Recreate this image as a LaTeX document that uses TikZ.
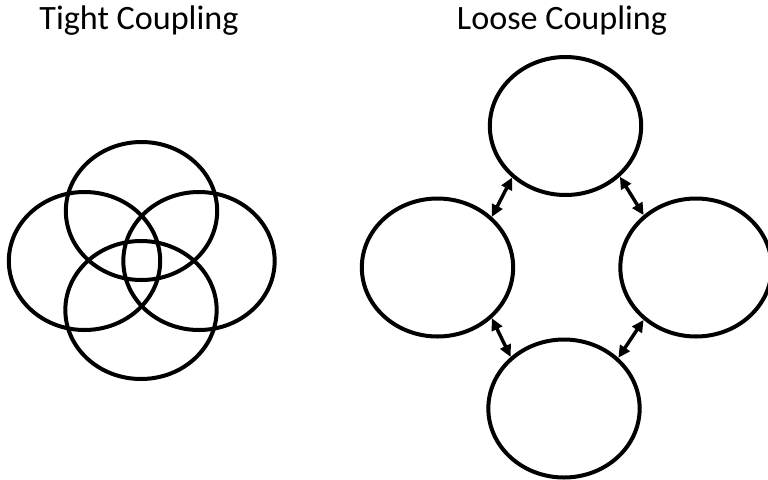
\documentclass[tikz,border=0pt]{standalone}
\usepackage{fontspec}
\setmainfont{Carlito}
\usetikzlibrary{shapes.geometric,arrows.meta}
\begin{document}
\begin{tikzpicture}[x=0.75pt,y=-0.75pt,
  ring/.style={draw=black,line width=3pt,ellipse,minimum width=113.5pt,minimum height=103.5pt,inner sep=0pt},
  link/.style={draw=black,line width=2.6pt,arrows={Triangle[length=9pt,width=8.5pt]-Triangle[length=9pt,width=8.5pt]}},
  title/.style={font=\fontsize{25.6}{30}\selectfont,anchor=base,inner sep=0pt}]
\useasboundingbox (0,0) rectangle (768,479);

% titles
\node[title] (ttight) at (139,29) {Tight Coupling};
\node[title] (tloose) at (562,29) {Loose Coupling};

% tight coupling: four overlapping ellipses
\node[ring] (ct) at (141.5,211) {};
\node[ring] (cl) at (84.5,261) {};
\node[ring] (cr) at (199,261) {};
\node[ring] (cb) at (141,310) {};

% loose coupling: four separate ellipses
\node[ring] (t) at (565.5,126) {};
\node[ring] (l) at (437.5,267.5) {};
\node[ring] (r) at (696,267.5) {};
\node[ring] (b) at (564,408.5) {};

% two-way links between neighbours
\draw[link] (l.43) -- (t.224);
\draw[link] (t.317) -- (r.135);
\draw[link] (l.317) -- (b.136);
\draw[link] (r.225) -- (b.43);
\end{tikzpicture}
\end{document}
